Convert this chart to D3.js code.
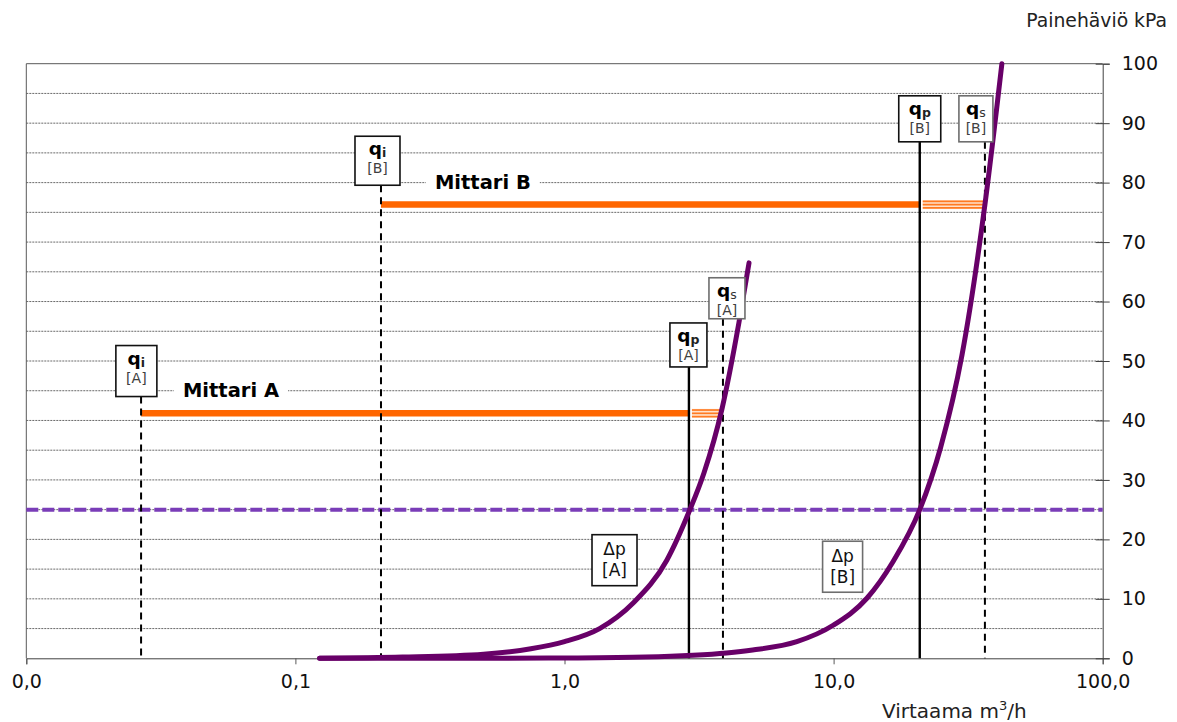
<!DOCTYPE html>
<html>
<head>
<meta charset="utf-8">
<script src="https://cdn.jsdelivr.net/npm/d3@7"></script>
<style>
  html, body { margin: 0; padding: 0; background: #fff; }
  svg { display: block; font-family: "DejaVu Sans", Verdana, sans-serif; }
</style>
</head>
<body>
<svg id="chart" width="1177" height="722"></svg>
<script>
// ---- Data -------------------------------------------------------------
// Pressure-loss curves Δp (kPa) of the two meters against flow (m³/h)
const flowA = [0.123, 0.25, 0.5, 0.75, 1.0, 1.35, 1.8, 2.4, 2.9, 3.3, 3.85, 4.45, 4.85];
const lossA = [0.0, 0.2, 0.7, 1.6, 2.8, 5.0, 9.3, 16.5, 24.6, 31.2, 42.0, 56.5, 66.5];
const flowB = [0.123, 0.5, 1, 2, 3, 4, 5, 7.3, 10, 13.3, 16.6, 20.9, 25, 30, 36.5, 42.2];
const lossB = [0.0, 0.0, 0.05, 0.2, 0.5, 0.9, 1.4, 2.8, 5.6, 10.1, 16.2, 25, 35.5, 51, 76.3, 100];

// Nominal pressure loss level
const nominalLoss = 25;

// Characteristic flows q_i, q_p, q_s for meters A and B
const qNames  = ["i", "i", "p", "s", "p", "s"];
const qMeters = ["A", "B", "A", "A", "B", "B"];
const qFlows  = [0.0267, 0.208, 2.9, 3.88, 20.9, 36.5];

// Measuring ranges (q_i .. q_p solid, q_p .. q_s overload) and their drawing levels
const meterNames  = ["Mittari A", "Mittari B"];
const rangeMin    = [0.0267, 0.208];
const rangeNom    = [2.9, 20.9];
const rangeMax    = [3.88, 36.5];
const rangeLevel  = [41.2, 76.3];

// Axis ticks
const xTicks = [0.01, 0.1, 1, 10, 100];
const xTickLabels = ["0,0", "0,1", "1,0", "10,0", "100,0"];
const yTicks = [0, 10, 20, 30, 40, 50, 60, 70, 80, 90, 100];
const yGrid = d3.range(5, 100, 5);

// ---- Layout -----------------------------------------------------------
const plot = { left: 26.3, right: 1102.7, top: 63.7, bottom: 658.3 };
const svg = d3.select("#chart");
svg.append("rect").attr("width", 1177).attr("height", 722).attr("fill", "#fff");

const x = d3.scaleLog().domain([0.01, 100]).range([plot.left, plot.right]);
const y = d3.scaleLinear().domain([0, 100]).range([plot.bottom, plot.top]);

// Gridlines
svg.append("g").selectAll("line").data(yGrid).join("line")
  .attr("x1", plot.left).attr("x2", plot.right)
  .attr("y1", d => y(d)).attr("y2", d => y(d))
  .attr("stroke", "#6a6a6a").attr("stroke-width", 1)
  .attr("stroke-dasharray", "2,1");

// Frame (top and left)
svg.append("path")
  .attr("d", `M${plot.left},${plot.bottom}V${plot.top}H${plot.right}`)
  .attr("fill", "none").attr("stroke", "#595959").attr("stroke-width", 1);

// X axis
const xAxis = svg.append("g").attr("transform", `translate(0,${plot.bottom})`)
  .call(d3.axisBottom(x).tickValues(xTicks).tickSize(6).tickPadding(10)
    .tickFormat((d, i) => xTickLabels[i]));
xAxis.select(".domain").attr("stroke", "#404040");
xAxis.selectAll(".tick line").attr("stroke", "#595959");
xAxis.selectAll("text").attr("font-size", 19).attr("fill", "#111")
  .attr("font-family", "DejaVu Sans, Verdana, sans-serif");

// Y axis on the right
const yAxis = svg.append("g").attr("transform", `translate(${plot.right},0)`)
  .call(d3.axisRight(y).tickValues(yTicks).tickSize(7).tickPadding(12));
yAxis.select(".domain").attr("stroke", "#404040");
yAxis.selectAll(".tick line").attr("x1", -7).attr("x2", 7).attr("stroke", "#404040");
yAxis.selectAll("text").attr("font-size", 19).attr("fill", "#111")
  .attr("font-family", "DejaVu Sans, Verdana, sans-serif");

// Axis titles
svg.append("text").attr("x", 1167).attr("y", 27).attr("text-anchor", "end")
  .attr("font-size", 18.8).attr("fill", "#222").text("Painehäviö kPa");
const xt = svg.append("text").attr("x", 882).attr("y", 718)
  .attr("font-size", 20).attr("fill", "#222");
xt.append("tspan").text("Virtaama m");
xt.append("tspan").attr("font-size", 13).attr("dy", -8).text("3");
xt.append("tspan").attr("dy", 8).text("/h");

// Nominal pressure loss line
svg.append("line")
  .attr("x1", plot.left).attr("x2", plot.right)
  .attr("y1", y(nominalLoss)).attr("y2", y(nominalLoss))
  .attr("stroke", "#7a3db8").attr("stroke-width", 4)
  .attr("stroke-dasharray", "12,4");

// Meter labels with white backing over the gridline
const labelFlow = [0.0382, 0.330];
const labelLevel = [45, 80];
meterNames.forEach((name, i) => {
  const g = svg.append("g");
  const bg = g.append("rect").attr("fill", "#fff");
  const t = g.append("text")
    .attr("x", x(labelFlow[i])).attr("y", y(labelLevel[i]) + 6)
    .attr("font-size", 19.5).attr("font-weight", "bold").attr("fill", "#000")
    .text(name);
  const b = t.node().getBBox();
  bg.attr("x", b.x - 9).attr("y", b.y).attr("width", b.width + 18).attr("height", b.height);
});

// Measuring ranges
meterNames.forEach((name, i) => {
  const yy = y(rangeLevel[i]);
  svg.append("line")
    .attr("x1", x(rangeMin[i])).attr("x2", x(rangeNom[i]))
    .attr("y1", yy).attr("y2", yy)
    .attr("stroke", "#ff6600").attr("stroke-width", 6.5);
  // overload part drawn as a triple line
  const x0 = x(rangeNom[i]) + 3, x1 = x(rangeMax[i]);
  svg.append("rect").attr("x", x0).attr("y", yy - 4.5).attr("width", x1 - x0).attr("height", 9)
    .attr("fill", "#ffe2cc");
  [-3.3, 0, 3.3].forEach(o => {
    svg.append("line").attr("x1", x0).attr("x2", x1).attr("y1", yy + o).attr("y2", yy + o)
      .attr("stroke", "#ff7a22").attr("stroke-width", 1.7);
  });
});

// Box geometry for the q labels (pixel sizes, offset from the flow line, top level in kPa)
const qBoxW   = [41, 45, 37, 36, 42, 34];
const qBoxH   = [51, 49, 44, 41, 46, 46];
const qBoxDx  = [-4.7, -3.5, -0.5, 4, 0, -9];
const qBoxTop = [52.6, 87.8, 56.4, 64.0, 94.6, 94.6];

// Vertical flow lines
qFlows.forEach((q, i) => {
  const top = y(qBoxTop[i]) + qBoxH[i];
  svg.append("line")
    .attr("x1", x(q)).attr("x2", x(q))
    .attr("y1", top).attr("y2", plot.bottom)
    .attr("stroke", "#000")
    .attr("stroke-width", qNames[i] === "p" ? 2.4 : 2)
    .attr("stroke-dasharray", qNames[i] === "p" ? null : "7,5");
});

// Pressure-loss curves
const line = d3.line().curve(d3.curveMonotoneX);
const curveG = svg.append("g");
[[flowA, lossA], [flowB, lossB]].forEach(([f, p]) => {
  curveG.append("path")
    .attr("d", line(f.map((q, i) => [x(q), y(p[i])])))
    .attr("fill", "none").attr("stroke", "#680068").attr("stroke-width", 5)
    .attr("stroke-linecap", "round");
});

// q label boxes: symbol with subscript on the first row, meter on the second
qFlows.forEach((q, i) => {
  const w = qBoxW[i], h = qBoxH[i];
  const cx = x(q) + qBoxDx[i];
  const top = y(qBoxTop[i]);
  const isS = qNames[i] === "s";
  const g = svg.append("g");
  g.append("rect")
    .attr("x", cx - w / 2).attr("y", top).attr("width", w).attr("height", h)
    .attr("fill", "#fff").attr("stroke", isS ? "#6e6e6e" : "#111").attr("stroke-width", 1.6);
  const t = g.append("text").attr("x", cx).attr("y", top + 19).attr("text-anchor", "middle");
  t.append("tspan").attr("font-size", 18.5).attr("font-weight", "bold").attr("fill", "#000").text("q");
  t.append("tspan").attr("font-size", 12.5).attr("dy", 2)
    .attr("font-weight", isS ? "normal" : "bold")
    .attr("fill", isS ? "#333" : "#222").text(qNames[i]);
  t.append("tspan").attr("x", cx).attr("dy", 16)
    .attr("font-size", 14).attr("font-weight", "normal").attr("fill", "#404040")
    .text(`[${qMeters[i]}]`);
});

// Δp curve labels
const dpMeters = ["A", "B"];
const dpFlow = [1.534, 10.8];
const dpLevel = [16.5, 15.4];
const dpBoxW = [45, 40];
dpMeters.forEach((m, i) => {
  const cx = x(dpFlow[i]), cy = y(dpLevel[i]);
  const w = dpBoxW[i], h = 51;
  const g = svg.append("g");
  g.append("rect").attr("x", cx - w / 2).attr("y", cy - h / 2).attr("width", w).attr("height", h)
    .attr("fill", "#fff").attr("stroke", i === 0 ? "#111" : "#6e6e6e").attr("stroke-width", 1.6);
  const t = g.append("text").attr("x", cx).attr("y", cy - 5).attr("text-anchor", "middle")
    .attr("font-size", 17).attr("fill", "#111");
  t.append("tspan").text("Δp");
  t.append("tspan").attr("x", cx).attr("dy", 21).text(`[${m}]`);
});
</script>
</body>
</html>
